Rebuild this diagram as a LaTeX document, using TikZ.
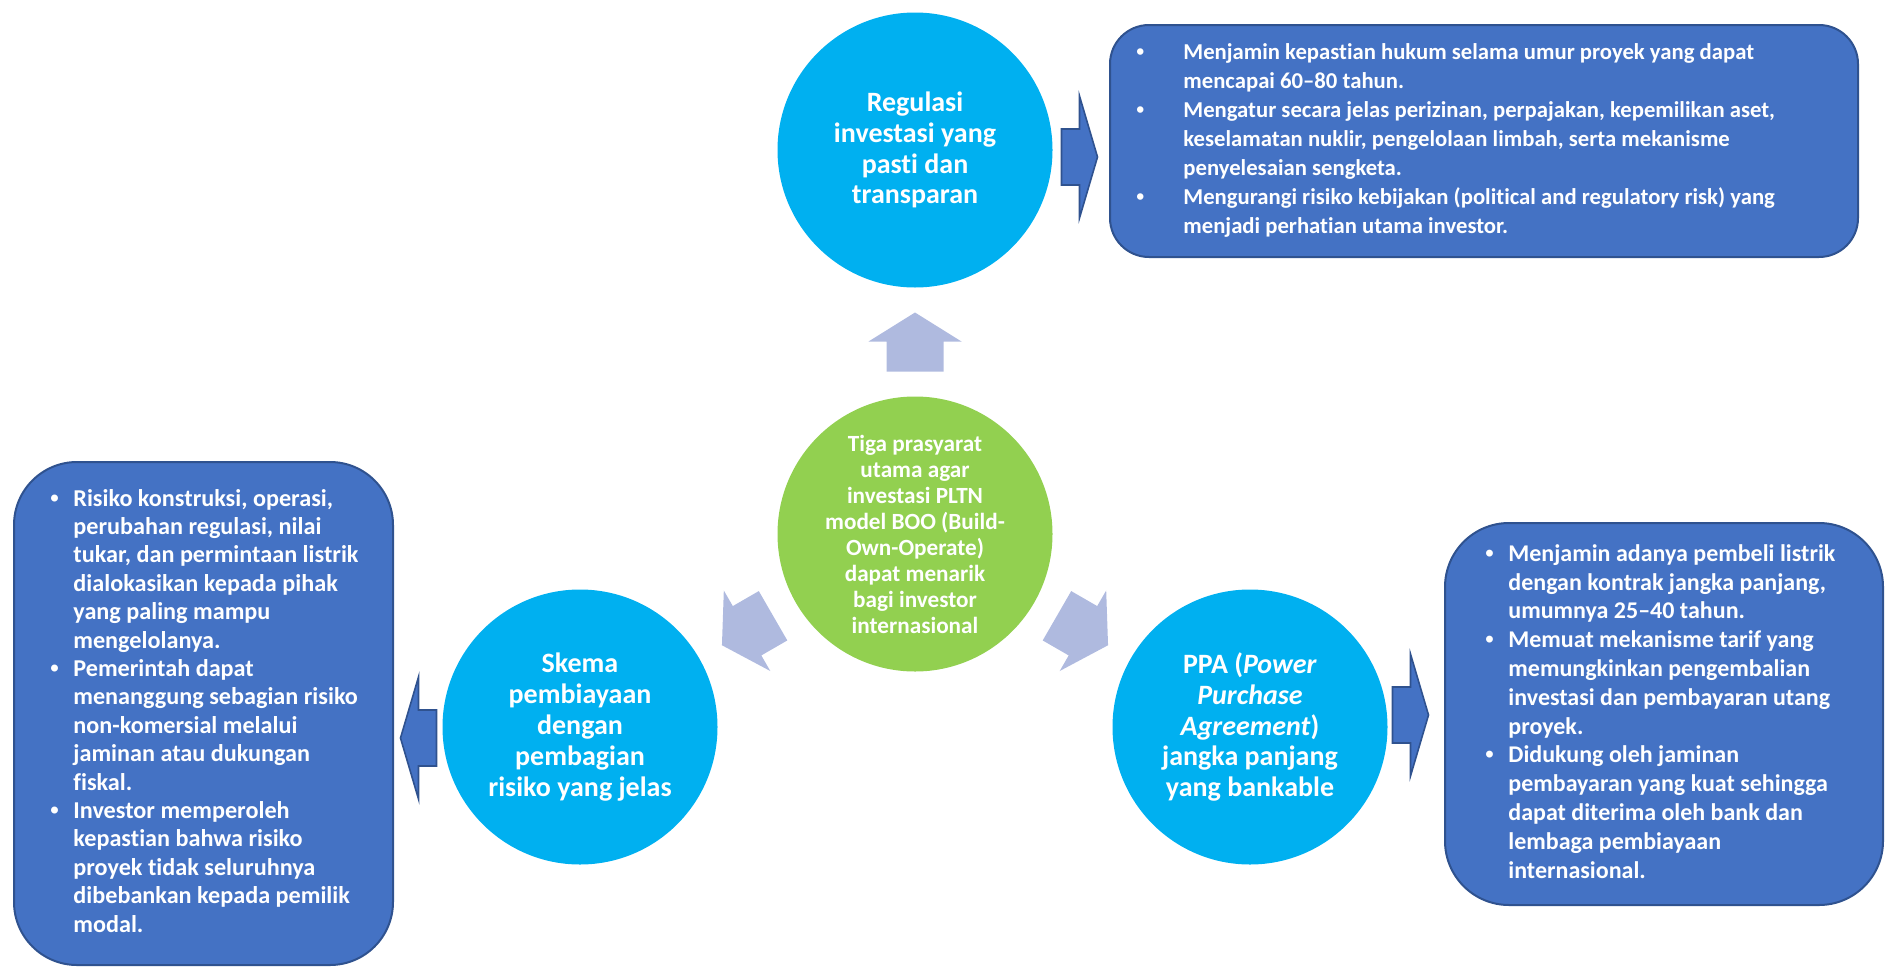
\documentclass[tikz,border=0pt]{standalone}
\usepackage{fontspec}
\setmainfont{Carlito}[Ligatures=NoCommon]
\newfontfamily\bltfont{Liberation Sans}
\usetikzlibrary{positioning,calc}
\definecolor{circColor}{HTML}{00B0F0}
\definecolor{hubColor}{HTML}{92D050}
\definecolor{boxColor}{HTML}{4472C4}
\definecolor{boxLine}{HTML}{2F528F}
\definecolor{tintColor}{HTML}{AFBADF}
\tikzset{
	blkarrow/.pic={\path[pic actions] (-18,-28) -- (0,-28) -- (0,-61) -- (18,0)
		-- (0,61) -- (0,28) -- (-18,28) -- cycle;},
	softarrow/.pic={\path[pic actions] (-29.5,-28.5) -- (0.5,-28.5) -- (0.5,-46.5)
		-- (29.5,0) -- (0.5,46.5) -- (0.5,28.5) -- (-29.5,28.5) -- cycle;},
	topic/.style={circle, fill=circColor, text=white, minimum size=137.5pt, inner sep=0pt,
		align=center, font=\fontsize{14}{15.4}\selectfont\bfseries},
	infobox/.style={draw=boxLine, fill=boxColor, line width=1pt, inner sep=0pt},
	infotext/.style={text=white, inner sep=0pt, anchor=west,
		font=\fontsize{12}{14.4}\selectfont\bfseries},
	darkarrow/.style={fill=boxColor, draw=boxLine, line width=0.8pt},
	lightarrow/.style={fill=tintColor}
}
\newcommand{\blt}{{\bltfont\textbullet}}

\begin{document}
\begin{tikzpicture}[x=0.5pt, y=-0.5pt]
	\useasboundingbox (0,0) rectangle (1896,975);
	
	\node[circle, fill=hubColor, text=white, minimum size=137.5pt, inner sep=0pt, align=center,
	font=\fontsize{11.6}{13}\selectfont\bfseries] (hub) at (915,534)
	{Tiga prasyarat\\utama agar\\investasi PLTN\\model BOO (Build-\\Own-Operate)\\dapat menarik\\bagi investor\\internasional};
	
	\node[topic] (reg) at (915,150) {Regulasi\\investasi yang\\pasti dan\\transparan};
	\node[topic] (skema) at (580,727) {Skema\\pembiayaan\\dengan\\pembagian\\risiko yang jelas};
	\node[topic] (ppa) at (1250,727) {PPA (\textit{Power}\\\textit{Purchase}\\\textit{Agreement})\\jangka panjang\\yang bankable};
	
	\pic[lightarrow, rotate=90] at ($(hub)!0.5!(reg)$) {softarrow};
	\pic[lightarrow, rotate=210] at ($(hub)!0.5!(skema)$) {softarrow};
	\pic[lightarrow, rotate=-30] at ($(hub)!0.5!(ppa)$) {softarrow};
	
	\node[infobox, minimum width=374pt, minimum height=116pt, rounded corners=19.5pt] (regbox) at (1484,141) {};
	\node[infobox, minimum width=189.5pt, minimum height=251.5pt, rounded corners=31.5pt] (skemabox) at (203.5,713.5) {};
	\node[infobox, minimum width=219pt, minimum height=191pt, rounded corners=32pt] (ppabox) at (1664,714) {};
	
	\node[infotext, font=\fontsize{11.35}{14.5}\selectfont\bfseries, right=13.5pt of regbox.west] (regtxt) {\begin{tabular}{@{}p{23.5pt}@{}l@{}}
			\blt & Menjamin kepastian hukum selama umur proyek yang dapat\\
			& mencapai 60–80 tahun.\\
			\blt & Mengatur secara jelas perizinan, perpajakan, kepemilikan aset,\\
			& keselamatan nuklir, pengelolaan limbah, serta mekanisme\\
			& penyelesaian sengketa.\\
			\blt & Mengurangi risiko kebijakan (political and regulatory risk) yang\\
			& menjadi perhatian utama investor.
		\end{tabular}};
	\node[infotext, font=\fontsize{12.1}{14.2}\selectfont\bfseries, right=18.5pt of skemabox.west] (skematxt) {\begin{tabular}{@{}p{11.5pt}@{}l@{}}
			\blt & Risiko konstruksi, operasi,\\
			& perubahan regulasi, nilai\\
			& tukar, dan permintaan listrik\\
			& dialokasikan kepada pihak\\
			& yang paling mampu\\
			& mengelolanya.\\
			\blt & Pemerintah dapat\\
			& menanggung sebagian risiko\\
			& non-komersial melalui\\
			& jaminan atau dukungan\\
			& fiskal.\\
			\blt & Investor memperoleh\\
			& kepastian bahwa risiko\\
			& proyek tidak seluruhnya\\
			& dibebankan kepada pemilik\\
			& modal.
		\end{tabular}};
	\node[infotext, right=20.5pt of ppabox.west] (ppatxt) {\begin{tabular}{@{}p{11.5pt}@{}l@{}}
			\blt & Menjamin adanya pembeli listrik\\
			& dengan kontrak jangka panjang,\\
			& umumnya 25–40 tahun.\\
			\blt & Memuat mekanisme tarif yang\\
			& memungkinkan pengembalian\\
			& investasi dan pembayaran utang\\
			& proyek.\\
			\blt & Didukung oleh jaminan\\
			& pembayaran yang kuat sehingga\\
			& dapat diterima oleh bank dan\\
			& lembaga pembiayaan\\
			& internasional.
		\end{tabular}};
	
	\pic[darkarrow] at (1079.5,157) {blkarrow};
	\pic[darkarrow] at (1410.5,715) {blkarrow};
	\pic[darkarrow, rotate=180] at (418.5,738) {blkarrow};
\end{tikzpicture}
\end{document}
